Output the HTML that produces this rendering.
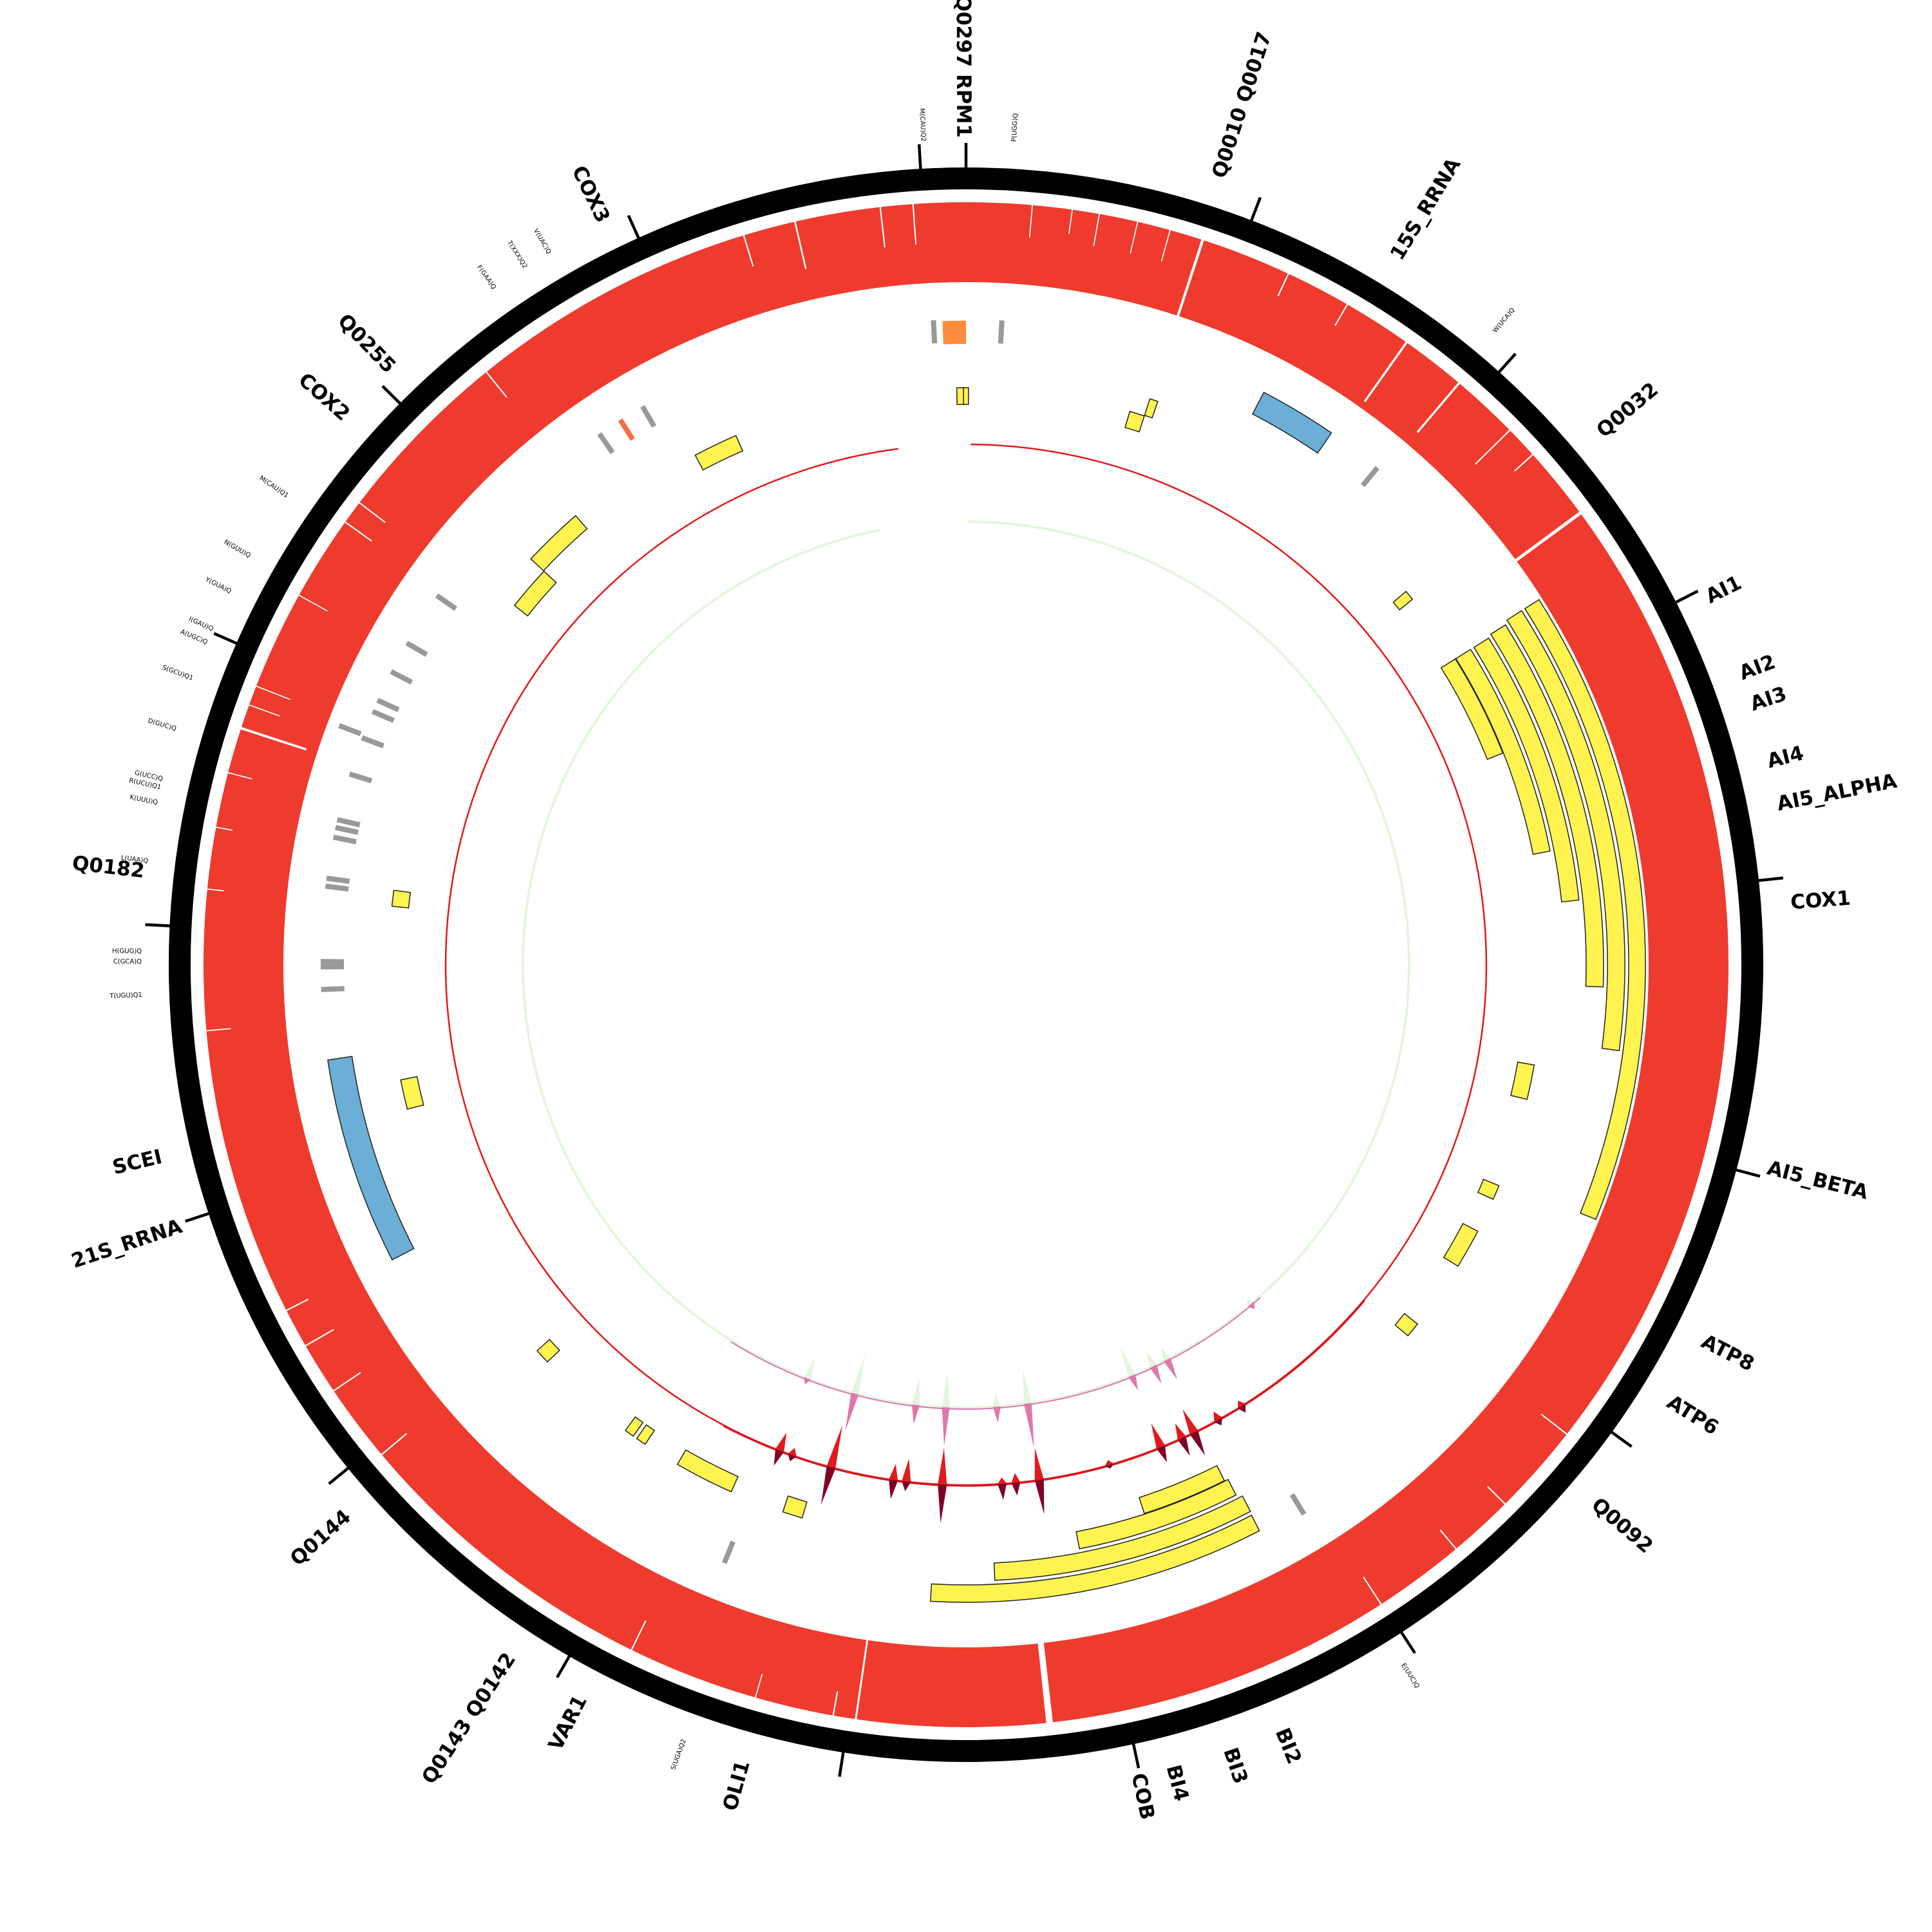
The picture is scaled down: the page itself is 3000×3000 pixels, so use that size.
<!DOCTYPE html>
<html>
<head>
<meta charset="utf-8">
<style>
html,body{margin:0;padding:0;background:#fff;}
svg{display:block;}
text{font-family:"DejaVu Sans","Liberation Sans",sans-serif;}
</style>
</head>
<body>
<svg id="chart" width="3000" height="3000" viewBox="0 0 3000 3000" xmlns="http://www.w3.org/2000/svg">
  <rect x="0" y="0" width="3000" height="3000" fill="#ffffff"/>
  <g id="g-ring"></g>
  <g id="g-features"></g>
  <g id="g-signal"></g>
  <g id="g-ideo"></g>
  <g id="g-labels"></g>
</svg>
<script>
// ---- data (positions in kb on a 85.779 kb circular genome) ----
const genomeKb = 85.779;
const tickStepKb = 5;

// coverage dropouts in red ring: position (kb), depth fraction, length (kb)
const gapPos   = [4.31, 82.69, 84.24, 84.83, 8.41, 9.60, 10.84, 12.79, 30.50, 35.03, 41.39, 44.87, 49.09, 54.81, 56.24, 57.19, 57.91, 68.64, 69.08, 69.44, 71.24, 72.79, 73.22, 76.49, 81.74, 1.19, 1.91, 3.10, 5.96, 7.15, 11.44, 33.36, 32.17, 45.28, 46.71, 63.15, 65.69, 66.81, 67.81, 2.40, 3.70];
const gapDepth = [1.0, 0.6, 0.5, 0.5, 0.9, 0.8, 0.6, 1.0, 0.4, 0.4, 1.0, 1.0, 0.4, 0.4, 0.4, 0.4, 0.3, 0.85, 0.4, 0.45, 0.4, 0.4, 0.4, 0.4, 0.4, 0.4, 0.3, 0.4, 0.3, 0.3, 0.3, 0.3, 0.3, 0.3, 0.3, 0.3, 0.2, 0.2, 0.3, 0.4, 0.4];
const gapLen   = [0.05, 0.03, 0.025, 0.025, 0.04, 0.04, 0.025, 0.06, 0.025, 0.025, 0.12, 0.035, 0.025, 0.025, 0.025, 0.025, 0.025, 0.045, 0.02, 0.02, 0.02, 0.025, 0.025, 0.025, 0.025, 0.02, 0.02, 0.02, 0.025, 0.025, 0.025, 0.025, 0.025, 0.025, 0.02, 0.02, 0.02, 0.02, 0.02, 0.02, 0.02];

// ORF / exon features (yellow): start kb, end kb, stacking level
const orfStart = [0.00, 4.29, 3.93, 11.84, 13.70, 13.70, 13.77, 13.82, 13.82, 13.82, 23.83, 26.81, 28.00, 30.62, 36.36, 36.34, 36.46, 36.55, 46.82, 48.61, 50.94, 51.28, 53.97, 60.88, 65.72, 73.51, 74.58, 79.11, 85.56];
const orfEnd   = [0.00, 4.48, 4.29, 12.08, 26.69, 23.23, 21.92, 20.01, 18.82, 16.32, 24.66, 27.16, 28.95, 30.98, 43.65, 42.25, 40.27, 38.60, 47.30, 50.04, 51.18, 51.51, 54.33, 61.59, 66.10, 74.58, 76.01, 80.18, 85.72];
const orfLevel = [5, 4, 5, 5, 0, 1, 2, 3, 4, 5, 5, 5, 5, 5, 2, 3, 4, 5, 5, 5, 5, 5, 5, 5, 5, 5, 4, 5, 5];

// rRNA features (blue)
const rrnaStart = [6.55, 57.85];
const rrnaEnd   = [8.22, 62.31];
// other RNA (orange)
const ncStart = [85.28];
const ncEnd   = [85.78];
// tRNA positions (kb) and row (0 = inner, 1 = outer)
const trnaPos = [85.09, 0.76, 9.44, 35.36, 48.13, 63.81, 64.29, 64.40, 66.00, 66.17, 67.05, 67.26, 67.43, 68.43, 69.24, 69.31, 69.84, 70.10, 70.77, 71.46, 72.65, 77.53, 78.61];
const trnaRow = [0, 0, 0, 0, 0, 0, 0, 0, 0, 0, 0, 0, 0, 0, 0, 1, 0, 0, 0, 0, 0, 0, 0];
const trnaHiPos = [78.06];

// signal track 1 (red): spike positions and values
const redPos = [35.27, 35.98, 36.70, 37.05, 37.65, 39.08, 40.96, 41.58, 41.94, 43.51, 44.46, 44.80, 46.47, 47.54, 47.89];
const redIn  = [10, 15, 40, 25, 40, 8, 50, 15, 10, 57, 36, 25, 67, 12, 30];
const redOut = [12, 10, 40, 30, 25, 6, 54, 20, 25, 60, 15, 30, 60, 10, 25];
const redSpanKb = [0.12, 84.0];

// signal track 2 (pink/green)
const pinkPos = [33.36, 36.46, 36.93, 37.65, 40.98, 41.94, 43.51, 44.44, 46.35, 47.89];
const greenIn = [10, 20, 25, 50, 55, 20, 55, 45, 65, 35];
const pinkOut = [10, 35, 30, 25, 70, 25, 60, 30, 60, 10];
const pinkSpanKb = [0.05, 83.1];

// labels
const bigNames = ["Q0010  Q0017","15S_RRNA","Q0032","AI1","AI2","AI3","AI4","AI5_ALPHA","COX1","AI5_BETA","ATP8","ATP6","Q0092","BI2","BI3","BI4","COB","OLI1","VAR1","Q0143  Q0142","Q0144","21S_RRNA","SCEI","Q0182","COX2","Q0255","COX3","Q0297  RPM1"];
const bigPos   = [4.24, 7.46, 11.92, 15.17, 16.54, 17.08, 18.06, 18.78, 20.42, 24.83, 27.88, 29.02, 31.10, 37.55, 38.46, 39.44, 40.03, 46.61, 49.49, 50.85, 54.42, 59.95, 61.14, 65.88, 74.22, 75.30, 79.59, 85.74];
const smallNames = ["P(UGG)Q","W(UCA)Q","E(UUC)Q","S(UGA)Q2","V(UAC)Q","T(XXX)Q2","F(GAA)Q","M(CAU)Q1","N(GUU)Q","Y(GUA)Q","I(GAU)Q","A(UGC)Q","S(GCU)Q1","D(GUC)Q","G(UCC)Q","R(UCU)Q1","K(UUU)Q","L(UAA)Q","H(GUG)Q","C(GCA)Q","T(UGU)Q1","M(CAU)Q2"];
const smallPos   = [0.80, 9.50, 35.27, 47.65, 78.54, 78.08, 77.46, 72.58, 71.41, 70.74, 70.05, 69.81, 69.17, 68.29, 67.43, 67.29, 67.03, 66.05, 64.55, 64.38, 63.83, 85.07];

// ---- geometry ----
const CX = 1500, CY = 1498;
const NS = "http://www.w3.org/2000/svg";
function ang(kb){ return kb / genomeKb * 360; }
function pt(r, a){ const t = a*Math.PI/180; return [CX + r*Math.sin(t), CY - r*Math.cos(t)]; }
function sector(r0, r1, a0, a1){
  const large = (a1 - a0) > 180 ? 1 : 0;
  const p1 = pt(r1,a0), p2 = pt(r1,a1), p3 = pt(r0,a1), p4 = pt(r0,a0);
  return `M${p1[0].toFixed(2)},${p1[1].toFixed(2)} A${r1},${r1} 0 ${large} 1 ${p2[0].toFixed(2)},${p2[1].toFixed(2)} L${p3[0].toFixed(2)},${p3[1].toFixed(2)} A${r0},${r0} 0 ${large} 0 ${p4[0].toFixed(2)},${p4[1].toFixed(2)} Z`;
}
function arcLine(r, a0, a1){
  const large = (a1 - a0) > 180 ? 1 : 0;
  const p1 = pt(r,a0), p2 = pt(r,a1);
  return `M${p1[0].toFixed(2)},${p1[1].toFixed(2)} A${r},${r} 0 ${large} 1 ${p2[0].toFixed(2)},${p2[1].toFixed(2)}`;
}
function mk(tag, parent, attrs){
  const el = document.createElementNS(NS, tag);
  for (const k in attrs) el.setAttribute(k, attrs[k]);
  parent.appendChild(el);
  return el;
}
const levelOuter = [1055, 1023, 990, 957, 924, 896];
const levelThick = [26, 27, 27, 27, 27, 26];

// ---- red coverage ring ----
const gRing = document.getElementById('g-ring');
const RING0 = 1060, RING1 = 1184;
let ringEl = mk('circle', gRing, {cx:CX, cy:CY, r:(RING0+RING1)/2, fill:'none', stroke:'#ee3b2e', 'stroke-width':RING1-RING0});


for (let i=0;i<gapPos.length;i++){
  const a = ang(gapPos[i]), w = ang(gapLen[i]);
  const r0 = RING1 - gapDepth[i]*(RING1-RING0) - 1;
  const g = mk('path', gRing, {d: sector(r0, RING1+2, a - w/2, a + w/2), fill:'#ffffff'});
  
  
}

// ---- features ----
const gF = document.getElementById('g-features');
for (let i=0;i<orfStart.length;i++){
  let a0 = ang(orfStart[i]), a1 = ang(orfEnd[i]);
  if (a1 - a0 < 0.35) { const m=(a0+a1)/2; a0 = m-0.25; a1 = m+0.25; }
  const lv = orfLevel[i];
  const e = mk('path', gF, {d: sector(levelOuter[lv]-levelThick[lv], levelOuter[lv], a0, a1), fill:'#fff350', stroke:'#222', 'stroke-width':1.5});
  
  
}
for (let i=0;i<rrnaStart.length;i++){
  const e = mk('path', gF, {d: sector(964, 1002, ang(rrnaStart[i]), ang(rrnaEnd[i])), fill:'#6baed6', stroke:'#222', 'stroke-width':1.5});
  
  
}
for (let i=0;i<ncStart.length;i++){
  const e = mk('path', gF, {d: sector(964, 1000, ang(ncStart[i]), ang(ncEnd[i])), fill:'#fd8d3c'});
  
  
}
for (let i=0;i<trnaPos.length;i++){
  const a = ang(trnaPos[i]);
  const r0 = trnaRow[i] ? 1006 : 966;
  const p1 = pt(r0, a), p2 = pt(r0+36, a);
  const e = mk('line', gF, {x1:p1[0], y1:p1[1], x2:p2[0], y2:p2[1], stroke:'#999999', 'stroke-width':8});
  
  
}
for (let i=0;i<trnaHiPos.length;i++){
  const a = ang(trnaHiPos[i]);
  const p1 = pt(966, a), p2 = pt(1002, a);
  const e = mk('line', gF, {x1:p1[0], y1:p1[1], x2:p2[0], y2:p2[1], stroke:'#f46d43', 'stroke-width':8});
  
  
}

// ---- signal tracks ----
const gS = document.getElementById('g-signal');
const R_RED = 808, R_GREEN = 688, SPIKE_W = 1.0, AMP = 1.0;
let e0 = mk('path', gS, {d: arcLine(R_GREEN, ang(pinkSpanKb[0]), ang(pinkSpanKb[1])), fill:'none', stroke:'#e5f5e0', 'stroke-width':4});


let e0b = mk('path', gS, {d: arcLine(R_GREEN+2, ang(33.0), ang(50.5)), fill:'none', stroke:'#de77ae', 'stroke-width':2});


let e1 = mk('path', gS, {d: arcLine(R_RED, ang(redSpanKb[0]), ang(redSpanKb[1])), fill:'none', stroke:'#e31a1c', 'stroke-width':2.5});


let e1b = mk('path', gS, {d: arcLine(R_RED+1, ang(31.0), ang(49.5)), fill:'none', stroke:'#d7191c', 'stroke-width':3});


function spike(r0, a, amp, color, name){
  const p1 = pt(r0, a - SPIKE_W/2), p2 = pt(r0 + amp*AMP, a), p3 = pt(r0, a + SPIKE_W/2);
  const e = mk('polygon', gS, {points: `${p1[0]},${p1[1]} ${p2[0]},${p2[1]} ${p3[0]},${p3[1]}`, fill: color});
  
  
}
for (let i=0;i<pinkPos.length;i++){
  spike(R_GREEN, ang(pinkPos[i]), -greenIn[i], '#e5f5e0', 'track2-spike-in');
  spike(R_GREEN, ang(pinkPos[i]), pinkOut[i], '#de77ae', 'track2-spike-out');
}
for (let i=0;i<redPos.length;i++){
  spike(R_RED, ang(redPos[i]), -redIn[i], '#e31a1c', 'track1-spike-in');
  spike(R_RED, ang(redPos[i]), redOut[i], '#800026', 'track1-spike-out');
}

// ---- ideogram ring + ticks ----
const gI = document.getElementById('g-ideo');
let ide = mk('circle', gI, {cx:CX, cy:CY, r:1221, fill:'none', stroke:'#000', 'stroke-width':34});


for (let k=0; k*tickStepKb < genomeKb; k++){
  const a = ang(k*tickStepKb);
  const p1 = pt(1236, a), p2 = pt(1276, a);
  const t = mk('line', gI, {x1:p1[0], y1:p1[1], x2:p2[0], y2:p2[1], stroke:'#000', 'stroke-width':4.5});
  
  
}

// ---- labels ----
const gL = document.getElementById('g-labels');
function label(txt, kb, r, size, weight, name){
  const a = ang(kb);
  const right = a > 0.5 && a <= 180;
  const p = pt(r, a);
  const rot = right ? a - 90 : a - 270;
  const t = mk('text', gL, {x:p[0].toFixed(1), y:p[1].toFixed(1), 'font-size':size, 'font-weight':weight, fill:'#000',
    'text-anchor': right ? 'start' : 'end', 'dominant-baseline':'central',
    transform:`rotate(${rot.toFixed(2)} ${p[0].toFixed(1)} ${p[1].toFixed(1)})`});
  t.textContent = txt;
  
  
}
for (let i=0;i<bigNames.length;i++) label(bigNames[i], bigPos[i], 1284, 31, 'bold', 'gene-label');
for (let i=0;i<smallNames.length;i++) label(smallNames[i], smallPos[i], 1280, 10, 'normal', 'trna-label');
</script>
</body>
</html>
